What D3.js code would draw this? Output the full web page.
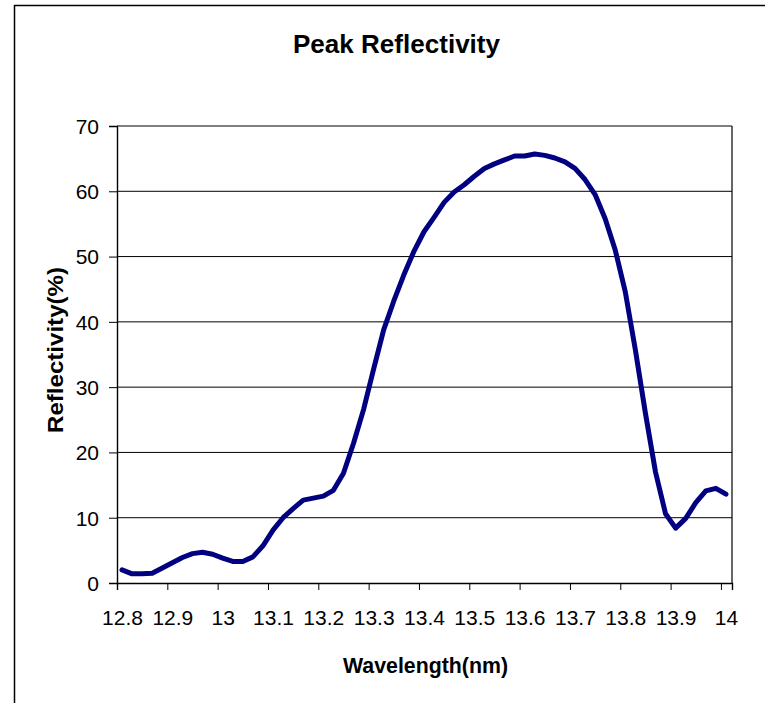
<!DOCTYPE html>
<html>
<head>
<meta charset="utf-8">
<script src="https://cdn.jsdelivr.net/npm/d3@7"></script>
<style>
  html, body { margin: 0; padding: 0; background: #fff; }
  svg { display: block; }
  text { font-family: "Liberation Sans", Arial, sans-serif; fill: #000; }
</style>
</head>
<body>
<div id="chart"></div>
<script>
// ---- data ------------------------------------------------------------------
const wavelengths = [
  12.81, 12.83, 12.85, 12.87, 12.89, 12.91, 12.93, 12.95, 12.97, 12.99,
  13.01, 13.03, 13.05, 13.07, 13.09, 13.11, 13.13, 13.15, 13.17, 13.19,
  13.21, 13.23, 13.25, 13.27, 13.29, 13.31, 13.33, 13.35, 13.37, 13.39,
  13.41, 13.43, 13.45, 13.47, 13.49, 13.51, 13.53, 13.55, 13.57, 13.59,
  13.61, 13.63, 13.65, 13.67, 13.69, 13.71, 13.73, 13.75, 13.77, 13.79,
  13.81, 13.83, 13.85, 13.87, 13.89, 13.91, 13.93, 13.95, 13.97, 13.99,
  14.01
];
const reflectivity = [
  2.0, 1.4, 1.4, 1.5, 2.3, 3.1, 3.9, 4.5, 4.7, 4.4,
  3.8, 3.3, 3.3, 4.0, 5.7, 8.1, 10.0, 11.4, 12.7, 13.0,
  13.3, 14.2, 16.8, 21.4, 26.6, 32.8, 38.8, 43.2, 47.2, 50.8,
  53.8, 56.0, 58.3, 59.9, 61.0, 62.3, 63.5, 64.2, 64.8, 65.4,
  65.4, 65.7, 65.5, 65.1, 64.5, 63.5, 61.8, 59.5, 55.8, 51.0,
  44.6, 35.7, 26.0, 17.0, 10.6, 8.4, 9.9, 12.3, 14.1, 14.5,
  13.6
];
const xTicks = [12.8, 12.9, 13, 13.1, 13.2, 13.3, 13.4, 13.5, 13.6, 13.7, 13.8, 13.9, 14];
const yTicks = [0, 10, 20, 30, 40, 50, 60, 70];

const W = 765, H = 703;
const plot = { left: 117, right: 732, top: 126, bottom: 583 };
const NAVY = "#000080";

const svg = d3.select("#chart").append("svg")
  .attr("width", W).attr("height", H)
  .attr("viewBox", `0 0 ${W} ${H}`);

// outer chart frame (only left and top edges fall inside the picture)
svg.append("path")
  .attr("d", `M14.5,${H} V5.5 H${W}`)
  .attr("fill", "none").attr("stroke", "#000").attr("stroke-width", 1.5);

const x = d3.scaleLinear().domain([12.8, 14.022]).range([plot.left, plot.right]);
const y = d3.scaleLinear().domain([0, 70]).range([plot.bottom, plot.top]);

// ---- gridlines ---------------------------------------------------------------
svg.append("g")
  .selectAll("line")
  .data(yTicks.filter((d) => d > 0))
  .join("line")
  .attr("x1", plot.left).attr("x2", plot.right)
  .attr("y1", (d) => y(d)).attr("y2", (d) => y(d))
  .attr("stroke", "#000").attr("stroke-width", 1);

// right edge of plot area
svg.append("line")
  .attr("x1", plot.right).attr("x2", plot.right)
  .attr("y1", plot.top).attr("y2", plot.bottom)
  .attr("stroke", "#000").attr("stroke-width", 1.2);

// ---- axes --------------------------------------------------------------------
const yAxis = svg.append("g")
  .attr("transform", `translate(${plot.left},0)`)
  .call(d3.axisLeft(y).tickValues(yTicks).tickSize(8).tickPadding(10).tickFormat(d3.format("d")));
const xAxis = svg.append("g")
  .attr("transform", `translate(0,${plot.bottom})`)
  .call(d3.axisBottom(x).tickValues(xTicks).tickSize(7).tickPadding(20).tickFormat((d) => String(d)));

[yAxis, xAxis].forEach((ax) => {
  ax.select(".domain").attr("stroke", "#000").attr("stroke-width", 1.4);
  ax.selectAll(".tick line").attr("stroke", "#000").attr("stroke-width", 1);
  ax.selectAll(".tick text")
    .attr("fill", "#000")
    .style("font-family", '"Liberation Sans", Arial, sans-serif')
    .style("font-size", "21px");
});
// x labels in the reference sit a few px right of their ticks
xAxis.selectAll(".tick text").attr("dx", 5);
yAxis.selectAll(".tick text").attr("dy", "0.35em");

// ---- series line -------------------------------------------------------------
const pts = wavelengths.map((w, i) => [w, reflectivity[i]]);
svg.append("path")
  .datum(pts)
  .attr("d", d3.line().x((d) => x(d[0])).y((d) => y(d[1])))
  .attr("fill", "none")
  .attr("stroke", NAVY)
  .attr("stroke-width", 5)
  .attr("stroke-linejoin", "round")
  .attr("stroke-linecap", "round");

// ---- titles ------------------------------------------------------------------
svg.append("text")
  .attr("x", 396.5).attr("y", 53)
  .attr("text-anchor", "middle")
  .attr("textLength", 207).attr("lengthAdjust", "spacingAndGlyphs")
  .style("font-size", "25px").style("font-weight", "bold")
  .text("Peak Reflectivity");

svg.append("text")
  .attr("x", 425.5).attr("y", 673)
  .attr("text-anchor", "middle")
  .attr("textLength", 165).attr("lengthAdjust", "spacingAndGlyphs")
  .style("font-size", "22px").style("font-weight", "bold")
  .text("Wavelength(nm)");

svg.append("text")
  .attr("transform", `translate(63,350) rotate(-90)`)
  .attr("text-anchor", "middle")
  .attr("textLength", 166).attr("lengthAdjust", "spacingAndGlyphs")
  .style("font-size", "22px").style("font-weight", "bold")
  .text("Reflectivity(%)");
</script>
</body>
</html>
